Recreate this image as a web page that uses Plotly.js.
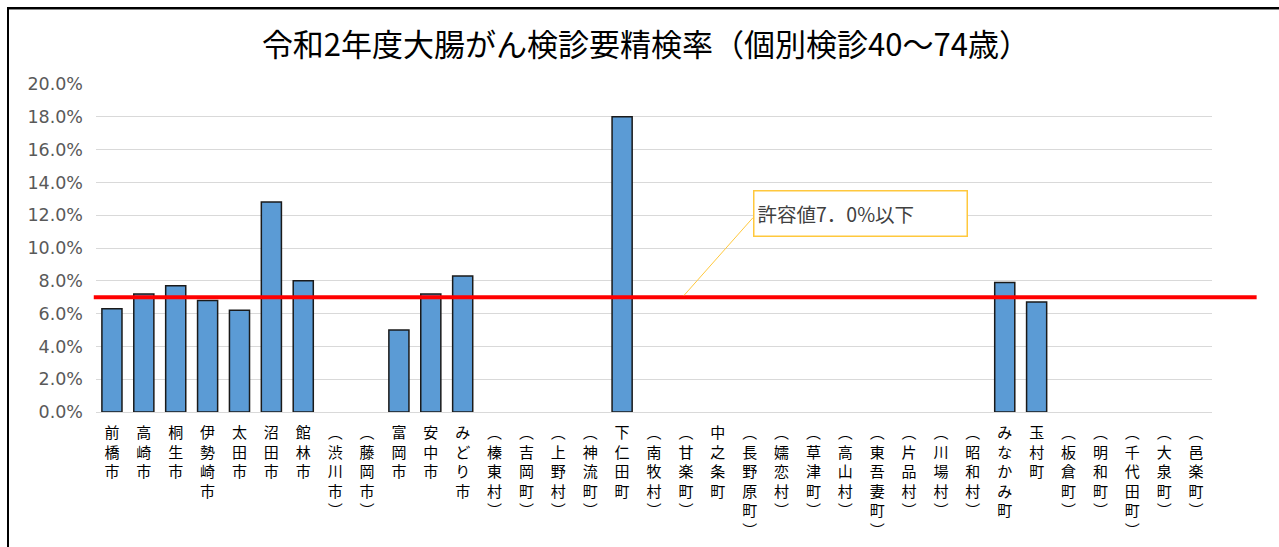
<!DOCTYPE html>
<html>
<head>
<meta charset="utf-8">
<script src="https://cdn.plot.ly/plotly-3.0.1.min.js"></script>
<style>
html,body{margin:0;padding:0;background:#fff;}
#frame{position:absolute;left:7px;top:7px;width:1272px;height:540px;border-left:2px solid #000;border-top:2px solid #000;box-shadow:inset 0 1px 0 #888;box-sizing:border-box;pointer-events:none;z-index:5;}
#chart{position:absolute;left:0;top:0;width:1279px;height:547px;}
</style>
</head>
<body>
<div id="chart"></div>
<div id="frame"></div>
<script>
const categories = ["前橋市","高崎市","桐生市","伊勢崎市","太田市","沼田市","館林市","（渋川市）","（藤岡市）","富岡市","安中市","みどり市","（榛東村）","（吉岡町）","（上野村）","（神流町）","下仁田町","（南牧村）","（甘楽町）","中之条町","（長野原町）","（嬬恋村）","（草津町）","（高山村）","（東吾妻町）","（片品村）","（川場村）","（昭和村）","みなかみ町","玉村町","（板倉町）","（明和町）","（千代田町）","（大泉町）","（邑楽町）"];
const rates = [6.3,7.2,7.7,6.8,6.2,12.8,8.0,null,null,5.0,7.2,8.3,null,null,null,null,18.0,null,null,null,null,null,null,null,null,null,null,null,7.9,6.7,null,null,null,null,null];
const threshold = 7.0;
const thresholdLabel = "許容値7．0%以下";
const titleText = "令和2年度大腸がん検診要精検率（個別検診40～74歳）";

function vertical(s){
  return Array.from(s).map(c => c === "（" ? "︵" : (c === "）" ? "︶" : c)).join("<br>");
}
const tickText = categories.map(vertical);

const trace = {
  type: "bar",
  x: categories,
  y: rates,
  marker: {color: "#5B9BD5", line: {color: "#1a1a1a", width: 1.5}},
  hoverinfo: "x+y"
};

const layout = {
  width: 1279, height: 547,
  margin: {l: 96, r: 67, t: 84, b: 135},
  paper_bgcolor: "#fff", plot_bgcolor: "#fff",
  showlegend: false,
  bargap: 0.37,
  font: {family: "Noto Sans CJK JP, sans-serif", color: "#000"},
  title: {
    text: titleText,
    font: {size: 31, color: "#000", family: "Noto Sans CJK JP, sans-serif"},
    xref: "container", x: 0.505, xanchor: "center",
    yref: "container", y: 0.918, yanchor: "middle"
  },
  xaxis: {
    type: "category",
    tickmode: "array",
    tickvals: categories,
    ticktext: tickText,
    tickangle: 0,
    tickfont: {size: 15, color: "#000", family: "Noto Sans CJK JP, sans-serif"},
    ticks: "",
    showgrid: false,
    showline: false,
    zeroline: false,
    ticklabelstandoff: 10
  },
  yaxis: {
    range: [0, 20],
    dtick: 2,
    tick0: 0,
    tickformat: ".1f",
    ticksuffix: "%",
    tickfont: {size: 17.5, color: "#595959", family: "DejaVu Sans, sans-serif"},
    gridcolor: "#d9d9d9",
    gridwidth: 1,
    zeroline: true,
    zerolinecolor: "#d9d9d9",
    zerolinewidth: 1,
    showline: false,
    ticks: "",
    ticklabelstandoff: 12
  },
  shapes: [
    {type: "line", xref: "paper", yref: "y", x0: -0.002, x1: 1.04, y0: threshold, y1: threshold,
     line: {color: "#FF0000", width: 4}, layer: "above"},
    {type: "line", xref: "paper", yref: "paper", x0: 0.5887, y0: 0.5925, x1: 0.5269, y1: 0.3555,
     line: {color: "#FFC83D", width: 1}, layer: "above"}
  ],
  annotations: [
    {xref: "paper", yref: "paper", x: 0.5887, y: 0.6765, xanchor: "left", yanchor: "top",
     text: thresholdLabel, showarrow: false, align: "left",
     font: {size: 19.5, color: "#404040", family: "Noto Sans CJK JP, sans-serif"},
     bgcolor: "#fff", bordercolor: "#FFC83D", borderwidth: 1.5, borderpad: 3,
     width: 206, height: 38}
  ]
};

Plotly.newPlot("chart", [trace], layout, {displayModeBar: false, staticPlot: true});
</script>
</body>
</html>
